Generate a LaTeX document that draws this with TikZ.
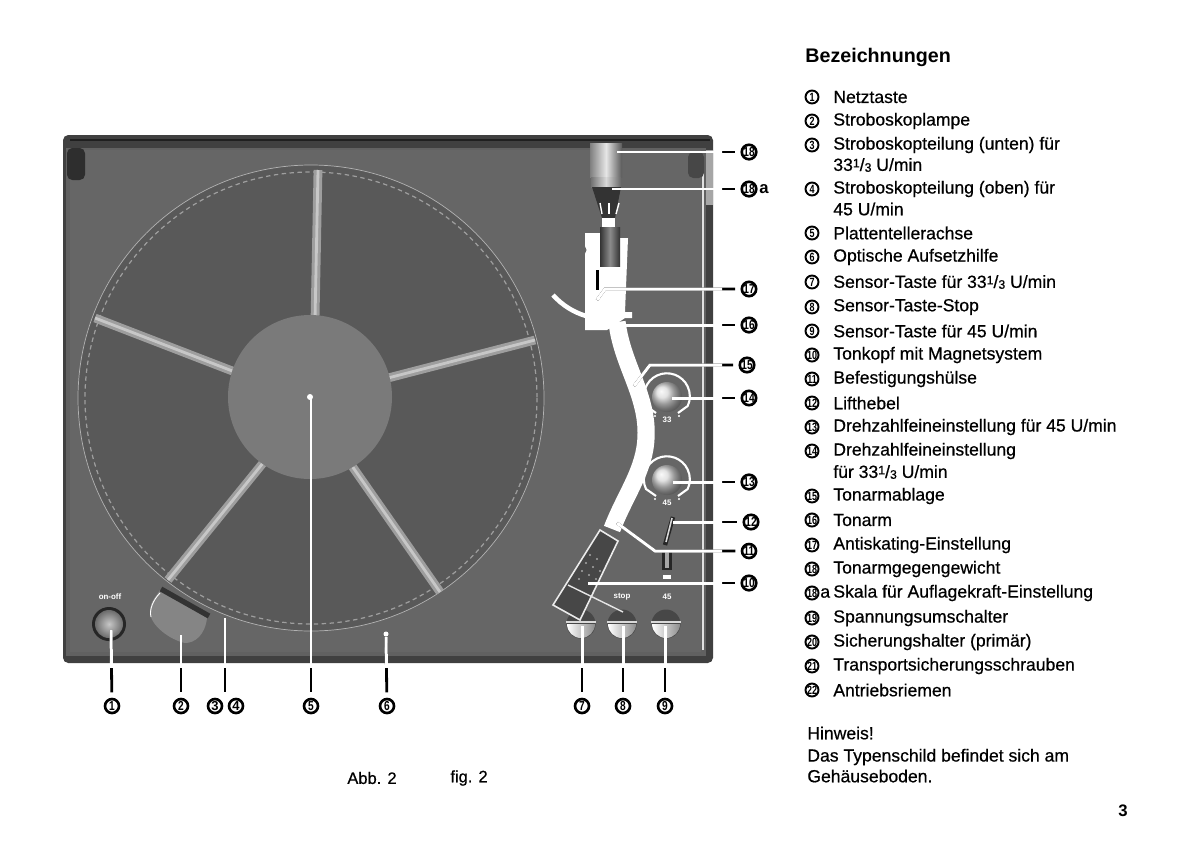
\documentclass[tikz,border=0pt]{standalone}
\usepackage{graphicx}
\usepackage{fontspec}
\setmainfont{Liberation Sans}
\newfontfamily\legendfont[FakeBold=0.6]{Liberation Sans}
\usetikzlibrary{shadings}
\newcommand{\third}{33\raisebox{.38ex}{\scriptsize 1}/\raisebox{-.1ex}{\scriptsize 3}}
\newcommand{\calloutlines}{%
  \foreach \n in {1,2,34,5,6,7,8,9,10,12,13,14,16,18,18a}{\draw (s\n)--(n\n);}
  \foreach \n in {11,15,17}{\draw (s\n)--(b\n)--(n\n);}
}
\tikzset{
  callout/.style={circle,draw,line width=1.5pt,inner sep=0pt,minimum size=0.28cm,font=\fontsize{7.4}{8}\selectfont\bfseries},
  keycircle/.style={circle,draw,line width=1.1pt,inner sep=0pt,minimum size=0.26cm,font=\fontsize{6.8}{7}\selectfont\bfseries},
  legend/.style={anchor=west,inner sep=0pt,font=\fontsize{10}{11}\legendfont},
  spoke/.style={line width=5pt,draw=black!38},
  tiny label/.style={text=white,inner sep=0pt,font=\fontsize{4.5}{5}\selectfont\bfseries}
}
\begin{document}
\begin{tikzpicture}[x=0.02cm,y=-0.02cm]
\useasboundingbox (0,0) rectangle (1202,859);
\fill[black!75,rounded corners=3pt] (63,135) rectangle (713,663);
\fill[black!35] (706,150) rectangle (713,205);
\fill[black!62] (66,148) rectangle (706,656);
\draw[black!12,line width=0.6pt] (703,172)--(703,650);
\fill[black!60] (70,150) rectangle (701,652);
\fill[black!82,rounded corners=3pt] (67,148) rectangle (85,180);
\fill[black!72,rounded corners=3pt] (688,152) rectangle (704,178);
\draw[black!88,line width=0.8pt] (70,140)--(710,140);

% platter
\fill[black!65] (311,398) circle (233);
\draw[black!30,line width=0.4pt] (311,398) circle (233);
\draw[black!38,line width=0.7pt,dash pattern=on 2.5pt off 2pt] (311,398) circle (226);
\foreach \xa/\ya/\xb/\yb in {318/170/315/320,535/340/388/378,95/318/235/372,168/580/263/463,440/592/352/466}{
  \draw[spoke] (\xa,\ya)--(\xb,\yb);
  \draw[black!22,line width=1.6pt] (\xa,\ya)--(\xb,\yb);
}
\fill[black!52] (310,397) circle (82);
\fill[white] (310,397) circle (3);

% power key and strobe lamp
\fill[black!85] (109,624) circle (17);
\shade[inner color=black!22,outer color=black!58] (109,624) circle (14);
\node[tiny label] (onoff) at (110,597) {on-off};
\fill[black!48] (160,590)--(207,618) .. controls (205,635) and (195,643) .. (185,643) .. controls (170,640) and (150,625) .. (150,612) .. controls (150,602) and (155,598) .. cycle;
\draw[black!80,line width=3pt] (161,589)--(209,616);
\draw[white,line width=0.5pt] (160,593) .. controls (153,600) and (149,610) .. (151,617);
\fill[white] (386,634) circle (2.5);

% counterweight
\shade[left color=black!50,right color=black!65,middle color=black!10] (590,143) rectangle (622,177);
\shade[left color=black!55,right color=black!60,middle color=black!15] (591,177) rectangle (621,187);
\fill[black!80] (592,187)--(621,187)--(615,218)--(602,218)--cycle;
\foreach \xa/\xb in {600/602,609/609,619/616}{\draw[white,line width=0.8pt] (\xa,203)--(\xb,214);}

% arm mount
\fill[white] (602,218) rectangle (615,227);
\fill[white] (585,233)--(600,233)--(600,266)--(620,266)--(620,238)--(628,238)--(625,312)--(632,312)--(632,318)--(625,318)--(607,330)--(585,330)--cycle;
\shade[left color=black!80,right color=black!80,middle color=black!45] (600,227) rectangle (620,266);
\fill[black!60] (582,250) circle (4.5);
\fill[black] (596,270) rectangle (599,290);
\draw[white,line width=2.6pt] (553,295) .. controls (562,305) and (573,312) .. (586,316);

% sensor keys
\foreach \x/\c in {581/a,622/b,666/c}{
  \fill[black!72] (\x,624) circle (14.5);
  \shade[left color=white,right color=black!45] (\x-14,624) arc (180:0:14) -- cycle;
  \draw[black!15,line width=0.8pt] (\x-15,622)--(\x+15,622);
}
\node[tiny label] (stoplabel) at (622,597) {stop};
\node[tiny label] (lastlabel) at (667,597) {45};

% tonearm
\draw[white,line width=9.8pt] (617,322) .. controls (622,365) and (648,395) .. (646,437) .. controls (645,470) and (625,495) .. (612,529);
\fill[black!72] (600,530)--(618,541)--(580,620)--(553,605)--cycle;
\draw[black!8,line width=0.9pt] (600,530)--(618,541)--(580,620)--(553,605)--cycle;
\draw[black!10,line width=0.8pt] (568,585)--(623,612);
\foreach \x/\y in {590/555,597/559,586/563,593/567,600/571,582/571,589/575,579/579,596/579}{
  \fill[black!35] (\x,\y) circle (1.2);
}

% speed knobs
\foreach \x/\y/\t in {667/397/33,667/480/45}{
  \draw[white,line width=1.2pt] (\x-11,\y+16)--(\x-21,\y+9) arc (155:385:23)--(\x+11,\y+16);
  \shade[ball color=black!15] (\x,\y) circle (15);
  \fill[white] (\x-12,\y+19) circle (1.2);
  \fill[white] (\x+12,\y+19) circle (1.2);
  \node[tiny label] at (\x,\y+23) {\t};
}

% lift lever
\fill[black!85] (662,550) rectangle (672,570);
\fill[black!35] (665,552) rectangle (669,568);
\draw[black!85,line width=2.5pt] (673,517)--(665,545);
\draw[black!15,line width=0.9pt] (672,518)--(666,542);
\fill[white] (663,575) rectangle (671,579);

% callouts
\foreach \n/\x/\y/\t in {1/112/706/1,2/181/706/2,5/311/706/5,6/387/706/6,7/582/706/7,8/623/706/8,9/665/706/9,18/749/152/18,18a/749/189/18,17/749/289/17,16/749/325/16,15/747/365/15,14/749/398/14,13/749/482/13,12/751/522/12,11/749/551/11,10/749/583/10}{
  \node[callout] (n\n) at (\x,\y) {\scalebox{0.78}[1]{\t}};
}
\node[callout] (n3) at (215,706) {3};
\node[callout] (n4) at (236,706) {4};
\coordinate (n34) at (225,697);
\node[font=\fontsize{9.5}{10}\selectfont\bfseries,anchor=west,inner sep=0pt] (n18aa) at (759,189) {a};

\coordinate (s1) at (111,630);
\coordinate (s2) at (181,635);
\coordinate (s34) at (225,618);
\coordinate (s5) at (311,397);
\coordinate (s6) at (386,637);
\coordinate (s7) at (582,626);
\coordinate (s8) at (623,626);
\coordinate (s9) at (665,626);
\coordinate (s10) at (588,583);
\coordinate (s11) at (617,523);
\coordinate (b11) at (655,551);
\coordinate (s12) at (673,522);
\coordinate (s13) at (673,482);
\coordinate (s14) at (672,398);
\coordinate (s15) at (634,386);
\coordinate (b15) at (650,365);
\coordinate (s16) at (607,325);
\coordinate (s17) at (597,300);
\coordinate (b17) at (605,289);
\coordinate (s18) at (617,152);
\coordinate (s18a) at (612,189);

\begin{scope}[line width=1.6pt,shorten >=3pt]
  \calloutlines
\end{scope}
\begin{scope}[draw=white,line width=1.7pt]
  \clip (0,0) rectangle (722,667);
  \calloutlines
\end{scope}

% legend
\node[anchor=west,inner sep=0pt,font=\fontsize{11.2}{13}\selectfont\bfseries] (title) at (805,57) {Bezeichnungen};
\foreach \y/\n/\t in {97/1/{Netztaste},121/2/{Stroboskoplampe},145/3/{Stroboskopteilung (unten) für},189/4/{Stroboskopteilung (oben) für},233/5/{Plattentellerachse},257/6/{Optische Aufsetzhilfe},282/7/{Sensor-Taste für \third\ U/min},307/8/{Sensor-Taste-Stop},331/9/{Sensor-Taste für 45 U/min},355/10/{Tonkopf mit Magnetsystem},379/11/{Befestigungshülse},403/12/{Lifthebel},427/13/{Drehzahlfeineinstellung für 45 U/min},451/14/{Drehzahlfeineinstellung},496/15/{Tonarmablage},520/16/{Tonarm},545/17/{Antiskating-Einstellung},569/18/{Tonarmgegengewicht},618/19/{Spannungsumschalter},642/20/{Sicherungshalter (primär)},666/21/{Transportsicherungsschrauben},690/22/{Antriebsriemen}}{
  \node[keycircle] (k\n) at (812,\y) {\scalebox{0.75}[1]{\n}};
  \node[legend] (t\n) at (833,\y) {\t};
}
\node[keycircle] (k18a) at (812,593) {\scalebox{0.75}[1]{18}};
\node[legend] (a18a) at (820,593) {a};
\node[legend] (t18a) at (833,593) {Skala für Auflagekraft-Einstellung};
\node[legend] (u3) at (833,165) {\third\ U/min};
\node[legend] (u4) at (833,209) {45 U/min};
\node[legend] (u14) at (833,472) {für \third\ U/min};

\node[legend] (hint) at (807,733) {Hinweis!};
\node[legend] (plate1) at (807,757) {Das Typenschild befindet sich am};
\node[legend] (plate2) at (807,776) {Gehäuseboden.};
\node[legend,font=\fontsize{9.4}{11}\legendfont] (abb) at (347,778) {Abb. 2};
\node[legend,font=\fontsize{9.4}{11}\legendfont] (fig) at (450,778) {fig. 2};
\node[anchor=center,inner sep=0pt,font=\fontsize{9.5}{11}\selectfont\bfseries] (page) at (1123,811) {3};
\end{tikzpicture}
\end{document}
